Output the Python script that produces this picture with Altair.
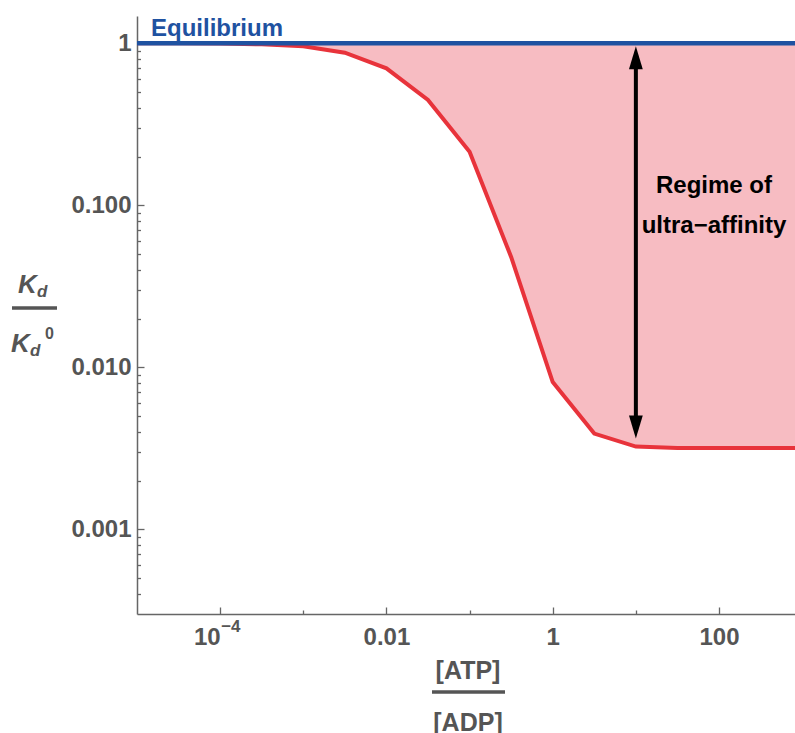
import altair as alt
import pandas as pd

# ---- data ----
atp_adp = [1e-5, 3.16e-5, 1e-4, 3.16e-4, 1e-3, 3.16e-3, 0.01, 0.0316, 0.1, 0.316,
           1, 3.16, 10, 31.6, 100, 316, 1000]
kd_ratio = [1.0, 1.0, 0.997, 0.985, 0.96, 0.875, 0.70, 0.447, 0.214, 0.048,
            0.0081, 0.0039, 0.00324, 0.00318, 0.00318, 0.00318, 0.00318]
equilibrium = 1.0
arrow_at = 10
arrow_bottom = 0.00324

x_major = [0.0001, 0.01, 1, 100]
x_major_labels = ["10", "0.01", "1", "100"]
x_power_value = 0.0001
x_power_text = "−4"
x_minor = [0.001, 0.1, 10]
y_major = [1, 0.1, 0.01, 0.001]
y_major_labels = ["1", "0.100", "0.010", "0.001"]
y_minor = [0.0004, 0.0005, 0.0006, 0.0007, 0.0008, 0.0009,
           0.002, 0.003, 0.004, 0.005, 0.006, 0.007, 0.008, 0.009,
           0.02, 0.03, 0.04, 0.05, 0.06, 0.07, 0.08, 0.09,
           0.2, 0.3, 0.4, 0.5, 0.6, 0.7, 0.8, 0.9]

# ---- styling ----
W, H = 658, 598
BLUE = "#1f52a1"
RED = "#e8333b"
PINK = "#f7bcc2"
GRAY = "#555555"
AXIS_GRAY = "#666666"
FONT = "Liberation Sans"

df = pd.DataFrame({"r": atp_adp, "kd": kd_ratio, "eq": [equilibrium] * len(atp_adp)})

xscale = alt.Scale(type="log", domain=[1e-5, 820], nice=False)
yscale = alt.Scale(type="log", domain=[3.0e-4, 1.474], nice=False)


def label_expr(values, labels):
    parts = [f"datum.value == {v} ? '{l}'" for v, l in zip(values, labels)]
    return " : ".join(parts) + " : ''"


def major_test(values):
    return "indexof([" + ",".join(str(v) for v in values) + "], datum.value) >= 0"


x_axis = alt.Axis(
    values=x_major + x_minor,
    labelExpr=label_expr(x_major, x_major_labels),
    labelAlign={"condition": {"test": f"datum.value == {x_power_value}", "value": "right"},
                "value": "center"},
    ticks=False, grid=True,
    gridDash={"condition": {"test": major_test(x_major), "value": [0, H - 7, 7, 2000]},
              "value": [0, H - 4, 4, 2000]},
    gridColor=AXIS_GRAY, gridWidth=1.3,
    domainColor=AXIS_GRAY, domainWidth=1.5,
    labelFont=FONT, labelFontSize=24, labelFontWeight="bold", labelColor=GRAY,
    labelPadding=11, labelOverlap=False, labelFlush=False, labelBound=False,
    title=None,
)
y_axis = alt.Axis(
    values=y_major + y_minor,
    labelExpr=label_expr(y_major, y_major_labels),
    ticks=False, grid=True,
    gridDash={"condition": {"test": major_test(y_major), "value": [7, 2000]},
              "value": [3.5, 2000]},
    gridColor=AXIS_GRAY, gridWidth=1.3,
    domainColor=AXIS_GRAY, domainWidth=1.5,
    labelFont=FONT, labelFontSize=24, labelFontWeight="bold", labelColor=GRAY,
    labelPadding=6, labelOverlap=False, labelFlush=False, labelBound=False,
    title=None,
)

X = alt.X("r:Q", scale=xscale, axis=x_axis)
Y = alt.Y("kd:Q", scale=yscale, axis=y_axis)

area = alt.Chart(df).mark_area(color=PINK, opacity=1, clip=True).encode(
    x=X, y=Y, y2="eq:Q",
)
line = alt.Chart(df).mark_line(color=RED, strokeWidth=4, clip=True).encode(
    x=X, y=Y,
)
eq_line = alt.Chart(pd.DataFrame({"kd": [equilibrium]})).mark_rule(
    color=BLUE, strokeWidth=4.5
).encode(y=Y)

arrow_df = pd.DataFrame({"r": [arrow_at], "kd": [equilibrium], "bottom": [arrow_bottom]})
shaft = alt.Chart(arrow_df).mark_rule(
    color="black", strokeWidth=4, yOffset=20, y2Offset=-20
).encode(x=X, y=Y, y2="bottom:Q")
head_up = alt.Chart(arrow_df).mark_point(
    shape="M0,0L0.3,1L-0.3,1Z", size=2116, filled=True, color="black",
    opacity=1, strokeWidth=0, yOffset=3
).encode(x=X, y=Y)
head_down = alt.Chart(pd.DataFrame({"r": [arrow_at], "kd": [arrow_bottom]})).mark_point(
    shape="M0,0L0.3,-1L-0.3,-1Z", size=2116, filled=True, color="black",
    opacity=1, strokeWidth=0, yOffset=-8
).encode(x=X, y=Y)

# superscript of the 10^-4 tick label
power = alt.Chart(pd.DataFrame({"r": [x_power_value], "t": [x_power_text]})).mark_text(
    align="left", baseline="alphabetic", font=FONT, fontSize=17, fontWeight="bold",
    color=GRAY, xOffset=1, y=H + 18,
).encode(x=X, text="t:N")


def text(t, x, y, size, color=GRAY, align="left", style="normal", weight="bold"):
    return alt.Chart(pd.DataFrame({"t": [t]})).mark_text(
        x=x, y=y, align=align, baseline="alphabetic", font=FONT, fontSize=size,
        fontWeight=weight, fontStyle=style, color=color,
    ).encode(text="t:N")


def bar(x1, x2, y):
    return alt.Chart(pd.DataFrame({"t": [0]})).mark_rule(
        color=GRAY, strokeWidth=3.5
    ).encode(x=alt.value(x1), x2=alt.value(x2), y=alt.value(y))


texts = [
    text("Equilibrium", 14, 20, 24, color=BLUE),
    text("Regime of", 577, 177, 24, color="black", align="center"),
    text("ultra−affinity", 577, 217, 24, color="black", align="center"),
    # y-axis title: Kd / Kd^0
    text("K", -119, 277, 26, style="italic"),
    text("d", -100, 281, 17, style="italic"),
    bar(-125, -80, 292),
    text("K", -126, 336, 26, style="italic"),
    text("d", -107, 340, 17, style="italic"),
    text("0", -92, 323, 16),
    # x-axis title: [ATP] / [ADP]
    text("[ATP]", 331, 663, 25, align="center"),
    bar(295, 368, 676),
    text("[ADP]", 331, 715, 25, align="center"),
]

chart = alt.layer(area, line, eq_line, shaft, head_up, head_down, power, *texts).properties(
    width=W, height=H,
    autosize=alt.AutoSizeParams(type="none"),
    padding={"left": 137, "top": 16, "right": 0, "bottom": 119},
).configure_view(stroke=None)

chart.save("out.html", embed_options={"renderer": "svg", "actions": False})
